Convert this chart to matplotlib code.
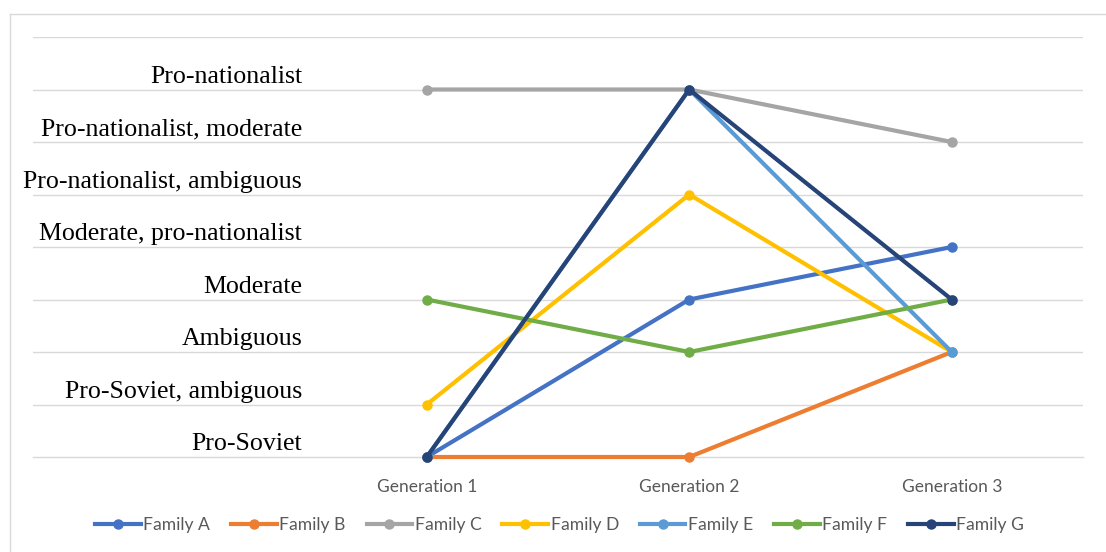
import matplotlib
matplotlib.use("Agg")
import matplotlib.pyplot as plt
from matplotlib.lines import Line2D

# stance levels, bottom to top
levels = ["Pro-Soviet", "Pro-Soviet, ambiguous", "Ambiguous", "Moderate",
          "Moderate, pro-nationalist", "Pro-nationalist, ambiguous",
          "Pro-nationalist, moderate", "Pro-nationalist"]
generations = ["Generation 1", "Generation 2", "Generation 3"]

family_a = [0, 3, 4]
family_b = [0, 0, 2]
family_c = [7, 7, 6]
family_d = [1, 5, 2]
family_e = [0, 7, 2]
family_f = [3, 2, 3]
family_g = [0, 7, 3]

series = [("Family A", family_a, "#4472C4"),
          ("Family B", family_b, "#ED7D31"),
          ("Family C", family_c, "#A5A5A5"),
          ("Family D", family_d, "#FFC000"),
          ("Family E", family_e, "#5B9BD5"),
          ("Family F", family_f, "#70AD47"),
          ("Family G", family_g, "#264478")]

fig = plt.figure(figsize=(11.06, 5.52), dpi=100)
ax = fig.add_axes([33 / 1106, 1 - 457 / 552, 1050 / 1106, 420 / 552])

# first slot is the empty category that holds the stance labels
xpos = [1, 2, 3]
handles = []
for name, vals, col in series:
    ax.plot(xpos, vals, '-o', color=col, linewidth=3, markersize=6.5, zorder=3,
            solid_capstyle='round', clip_on=False)
    handles.append(Line2D([0], [0], color=col, linewidth=3, marker='o', markersize=6.5))

ax.set_xlim(-0.5, 3.5)
ax.set_ylim(0, 8)
ax.set_yticks(range(1, 9))
ax.set_yticklabels([])
ax.tick_params(axis='y', length=0)
ax.grid(axis='y', color='#D9D9D9', linewidth=1)
ax.axhline(0, color='#D9D9D9', linewidth=1, clip_on=False, zorder=1)
ax.set_axisbelow(True)
for s in ax.spines.values():
    s.set_visible(False)

ax.set_xticks(xpos)
ax.set_xticklabels(generations, fontsize=12.5, color='#595959', family='Lato')
ax.tick_params(axis='x', length=0, pad=16)

for i, lab in enumerate(levels):
    ax.text(0.525, i + 0.24, lab, ha='right', va='center', fontsize=18.6,
            family='Liberation Serif', color='black')

fig.legend(handles, [s[0] for s in series], loc='center', bbox_to_anchor=(0.506, 1 - 525 / 552),
           ncol=7, frameon=False, prop={'family': 'Lato', 'size': 12.6},
           labelcolor='#595959', handlelength=2.6, handletextpad=0.15, columnspacing=1.2)

# chart border (left and top edges visible in the crop)
fig.add_artist(Line2D([10 / 1106, 10 / 1106], [0, 1 - 14 / 552], color='#D9D9D9', linewidth=1))
fig.add_artist(Line2D([10 / 1106, 1], [1 - 14 / 552, 1 - 14 / 552], color='#D9D9D9', linewidth=1))

fig.savefig("out.png", dpi=100)
